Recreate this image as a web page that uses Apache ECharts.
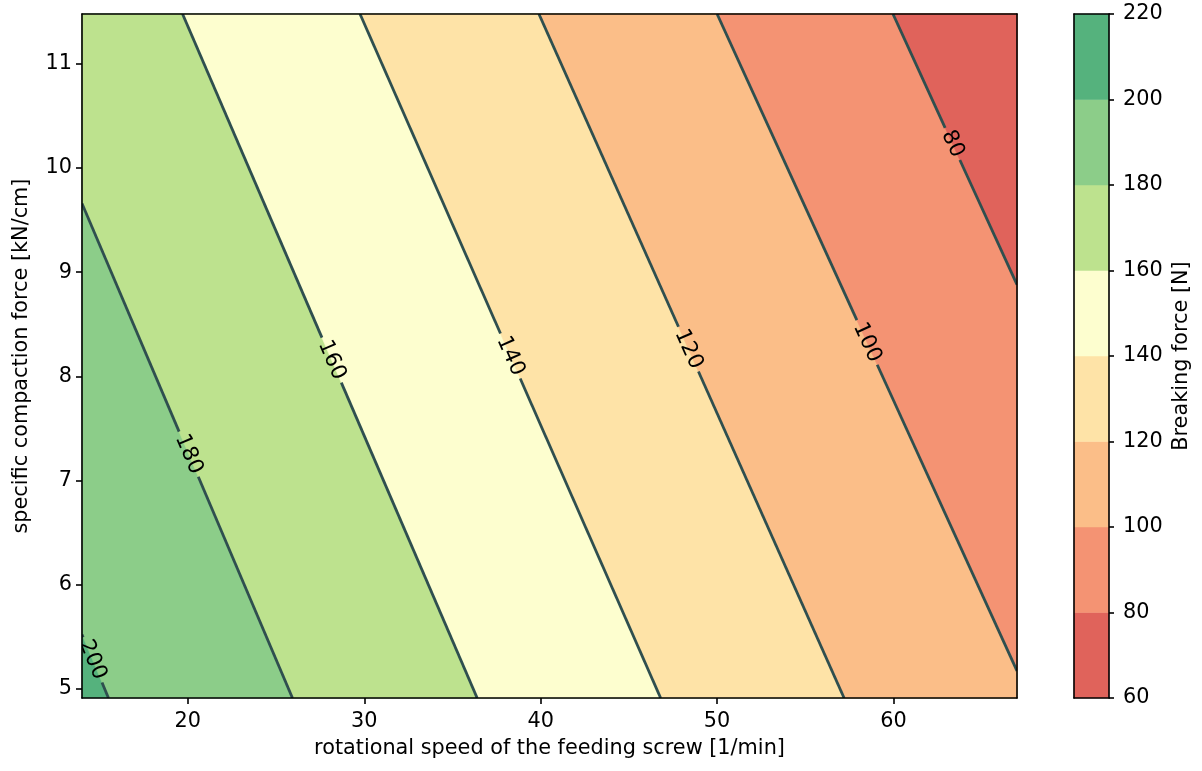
<!DOCTYPE html>
<html>
<head>
<meta charset="utf-8">
<title>Breaking force contour map</title>
<script src="https://cdn.jsdelivr.net/npm/echarts@6/dist/echarts.min.js"></script>
<style>
  html, body { margin: 0; padding: 0; background: #ffffff; }
  #chart { width: 1202px; height: 771px; }
</style>
</head>
<body>
<div id="chart"></div>
<script>
// ---- data -------------------------------------------------------------
// axis extents
const speedRange = [14, 67];       // rotational speed of the feeding screw [1/min]
const forceRange = [4.91, 11.48];  // specific compaction force [kN/cm]
const speedTicks = [20, 30, 40, 50, 60];
const forceTicks = [5, 6, 7, 8, 9, 10, 11];

// breaking force classes [N]
const bandEdges = [60, 80, 100, 120, 140, 160, 180, 200, 220];

// iso-lines of breaking force: point where each line enters and leaves the frame
// as [speed, compaction force]
const isoLevels = [200, 180, 160, 140, 120, 100, 80];
const isoStart = [[14, 5.52], [14, 9.66], [19.7, 11.48], [29.76, 11.48], [39.9, 11.48], [50.0, 11.48], [59.97, 11.48]];
const isoEnd = [[15.5, 4.91], [25.93, 4.91], [36.4, 4.91], [46.8, 4.91], [57.2, 4.91], [67, 5.17], [67, 8.88]];

// ---- style ------------------------------------------------------------
const bandColors = ['#e0635b', '#f49373', '#fbbe88', '#fee3a7', '#fdfecf', '#bde28e', '#8ccd89', '#55b27d'];
const labelAt = [0.40, 0.507, 0.506, 0.5, 0.49, 0.5, 0.48];   // label position along each iso-line
const FONT_FAMILY = '"DejaVu Sans", sans-serif';
const FONT_SIZE = 20.8;
const ISO_FONT_SIZE = 21.5;
const ISO_COLOR = '#2f4f4f';
const FRAME_W = 1.6;

// ---- geometry helpers ---------------------------------------------------
const EPS = 1e-6;
// clockwise position along the frame, corners at 0 (top-left), 1, 2, 3
function framePos(p) {
  const [x0, x1] = speedRange, [y0, y1] = forceRange;
  const W = x1 - x0, H = y1 - y0;
  if (Math.abs(p[1] - y1) < EPS) return (p[0] - x0) / W;
  if (Math.abs(p[0] - x1) < EPS) return 1 + (y1 - p[1]) / H;
  if (Math.abs(p[1] - y0) < EPS) return 2 + (x1 - p[0]) / W;
  return 3 + (p[1] - y0) / H;
}
function frameCorners() {
  const [x0, x1] = speedRange, [y0, y1] = forceRange;
  return [[x0, y1], [x1, y1], [x1, y0], [x0, y0]];
}
// part of the frame lying on the lower-force side of an iso-line
function lowSide(a, b) {
  const pa = framePos(a);
  let pb = framePos(b);
  if (pb < pa) pb += 4;
  const corners = frameCorners();
  const pts = [a];
  for (let c = Math.ceil(pa + EPS); c < pb; c++) pts.push(corners[c % 4]);
  pts.push(b);
  return pts;
}

// ---- render functions -------------------------------------------------
function renderBand(params, api) {
  const i = api.value(0);
  const k = isoLevels.indexOf(bandEdges[i + 1]);
  const poly = k < 0 ? frameCorners() : lowSide(isoStart[k], isoEnd[k]);
  return {
    type: 'polygon',
    shape: { points: poly.map(p => api.coord(p)) },
    style: { fill: bandColors[i], stroke: bandColors[i], lineWidth: 0.6 }
  };
}

function renderIso(params, api) {
  const k = api.value(0);
  const a = api.coord(isoStart[k]);
  const b = api.coord(isoEnd[k]);
  const dx = b[0] - a[0], dy = b[1] - a[1];
  const len = Math.hypot(dx, dy);
  const ux = dx / len, uy = dy / len;
  const t = labelAt[k];
  const cx = a[0] + dx * t, cy = a[1] + dy * t;
  const txt = String(isoLevels[k]);
  const half = txt.length * 0.636 * ISO_FONT_SIZE / 2 + 4;
  let ang = Math.atan2(dy, dx);
  if (ang > Math.PI / 2) ang -= Math.PI;
  if (ang < -Math.PI / 2) ang += Math.PI;
  const lineStyle = { stroke: ISO_COLOR, lineWidth: 2.8, lineCap: 'butt' };
  return {
    type: 'group',
    children: [
      { type: 'line', shape: { x1: a[0], y1: a[1], x2: cx - ux * half, y2: cy - uy * half }, style: lineStyle },
      { type: 'line', shape: { x1: cx + ux * half, y1: cy + uy * half, x2: b[0], y2: b[1] }, style: lineStyle },
      {
        type: 'text', x: cx, y: cy, rotation: -ang,
        style: {
          text: txt, x: 0, y: 0, fill: '#000000',
          align: 'center', verticalAlign: 'middle',
          textAlign: 'center', textVerticalAlign: 'middle',
          fontSize: ISO_FONT_SIZE, fontFamily: FONT_FAMILY
        }
      }
    ]
  };
}

function renderColorbar(params, api) {
  const i = api.value(0);
  const p0 = api.coord([0, bandEdges[i]]);
  const p1 = api.coord([1, bandEdges[i + 1]]);
  return {
    type: 'rect',
    shape: { x: p0[0], y: p1[1], width: p1[0] - p0[0], height: p0[1] - p1[1] },
    style: { fill: bandColors[i], stroke: bandColors[i], lineWidth: 0.5 }
  };
}

// ---- chart ------------------------------------------------------------
const textStyle = { color: '#000000', fontSize: FONT_SIZE, fontFamily: FONT_FAMILY };
const frameLine = { show: true, onZero: false, lineStyle: { color: '#000000', width: FRAME_W } };
const tickStyle = { color: '#000000', width: FRAME_W };
function lineOnlyAxis(extra) {
  return Object.assign({
    type: 'value', axisLine: frameLine, axisTick: { show: false },
    axisLabel: { show: false }, splitLine: { show: false }, z: 5
  }, extra);
}

const bandIndexTopDown = bandEdges.slice(0, -1).map((_, i) => [bandEdges.length - 2 - i]);
const isoIndex = isoLevels.map((_, k) => [k]);
const colorbarIndex = bandEdges.slice(0, -1).map((_, i) => [i]);

const option = {
  animation: false,
  backgroundColor: '#ffffff',
  grid: [
    { left: 82, top: 14, right: 185, bottom: 73 },
    { left: 1074, top: 14, width: 35, bottom: 73 }
  ],
  xAxis: [
    {
      gridIndex: 0, type: 'value', min: speedRange[0], max: speedRange[1], position: 'bottom',
      axisLine: frameLine,
      axisTick: { show: true, length: 6, lineStyle: tickStyle, customValues: speedTicks },
      axisLabel: Object.assign({ margin: 13, customValues: speedTicks }, textStyle),
      splitLine: { show: false },
      name: 'rotational speed of the feeding screw [1/min]',
      nameLocation: 'middle', nameGap: 40, nameTextStyle: textStyle, z: 5
    },
    lineOnlyAxis({ gridIndex: 0, min: speedRange[0], max: speedRange[1], position: 'top' }),
    lineOnlyAxis({ gridIndex: 1, min: 0, max: 1, position: 'bottom' }),
    lineOnlyAxis({ gridIndex: 1, min: 0, max: 1, position: 'top' })
  ],
  yAxis: [
    {
      gridIndex: 0, type: 'value', min: forceRange[0], max: forceRange[1], position: 'left',
      axisLine: frameLine,
      axisTick: { show: true, length: 6, lineStyle: tickStyle, customValues: forceTicks },
      axisLabel: Object.assign({ margin: 10, customValues: forceTicks }, textStyle),
      splitLine: { show: false },
      name: 'specific compaction force [kN/cm]',
      nameLocation: 'middle', nameGap: 50, nameTextStyle: textStyle, z: 5
    },
    lineOnlyAxis({ gridIndex: 0, min: forceRange[0], max: forceRange[1], position: 'right' }),
    {
      gridIndex: 1, type: 'value', min: bandEdges[0], max: bandEdges[bandEdges.length - 1],
      interval: 20, position: 'right',
      axisLine: frameLine,
      axisTick: { show: true, length: 5, lineStyle: tickStyle },
      axisLabel: Object.assign({ margin: 14 }, textStyle),
      splitLine: { show: false },
      name: 'Breaking force [N]',
      nameLocation: 'middle', nameGap: 62, nameTextStyle: textStyle, z: 5
    },
    lineOnlyAxis({ gridIndex: 1, min: bandEdges[0], max: bandEdges[bandEdges.length - 1], position: 'left' })
  ],
  series: [
    {
      type: 'custom', name: 'bands', xAxisIndex: 0, yAxisIndex: 0,
      renderItem: renderBand, data: bandIndexTopDown, z: 1, silent: true
    },
    {
      type: 'custom', name: 'iso-lines', xAxisIndex: 0, yAxisIndex: 0,
      renderItem: renderIso, data: isoIndex, z: 3, clip: true, silent: true
    },
    {
      type: 'custom', name: 'colorbar', xAxisIndex: 2, yAxisIndex: 2,
      renderItem: renderColorbar, data: colorbarIndex, z: 1, silent: true
    }
  ]
};

const chart = echarts.init(document.getElementById('chart'), null, { renderer: 'canvas' });
chart.setOption(option);
</script>
</body>
</html>
